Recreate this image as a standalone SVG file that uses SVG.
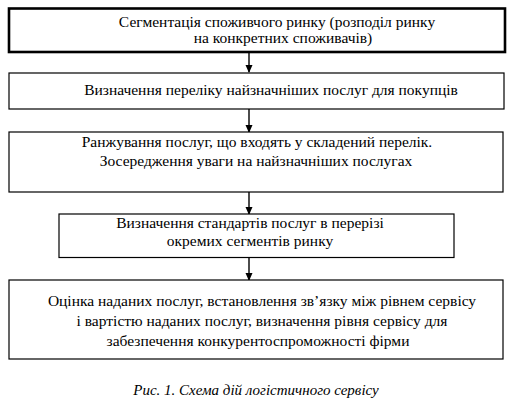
<svg xmlns="http://www.w3.org/2000/svg" width="524" height="405" viewBox="0 0 524 405">
<style>
.box{fill:#fff;stroke:#000;stroke-width:1.2}
.thick{stroke-width:2.6}
.t{font-family:"Liberation Serif","Times New Roman",serif;font-size:15.5px;fill:#000;text-anchor:middle}
.cap{font-family:"Liberation Serif","Times New Roman",serif;font-size:15px;font-style:italic;fill:#000;text-anchor:middle}
.c{stroke:#000;stroke-width:1.4;fill:none}
</style>
<defs>
<marker id="ah" markerWidth="8" markerHeight="10" refX="7" refY="3.5" orient="auto" markerUnits="userSpaceOnUse" viewBox="0 0 8 7">
<path d="M0,0 L8,3.5 L0,7 Z" fill="#000"/>
</marker>
</defs>
<rect width="524" height="405" fill="#fff"/>
<g id="connectors">
<line class="c" x1="249" y1="53" x2="249" y2="72" marker-end="url(#ah)"/>
<line class="c" x1="249" y1="109" x2="249" y2="132" marker-end="url(#ah)"/>
<line class="c" x1="249" y1="192" x2="249" y2="214" marker-end="url(#ah)"/>
<line class="c" x1="249" y1="258" x2="249" y2="280" marker-end="url(#ah)"/>
</g>
<g id="n1">
<rect class="box thick" x="9" y="8.5" width="496" height="43.5"/>
<text class="t" x="277" y="27">Сегментація споживчого ринку (розподіл ринку</text>
<text class="t" x="283" y="43">на конкретних споживачів)</text>
</g>
<g id="n2">
<rect class="box" x="9" y="73" width="495" height="36"/>
<text class="t" x="271" y="95">Визначення переліку найзначніших послуг для покупців</text>
</g>
<g id="n3">
<rect class="box" x="9" y="132" width="494" height="60"/>
<text class="t" x="257" y="147">Ранжування послуг, що входять у складений перелік.</text>
<text class="t" x="256" y="166">Зосередження уваги на найзначніших послугах</text>
</g>
<g id="n4">
<rect class="box" x="59" y="214" width="395" height="43.5"/>
<text class="t" x="250" y="228">Визначення стандартів послуг в перерізі</text>
<text class="t" x="250" y="246">окремих сегментів ринку</text>
</g>
<g id="n5">
<rect class="box" x="9" y="280" width="494" height="79"/>
<text class="t" x="262" y="306">Оцінка наданих послуг, встановлення зв’язку між рівнем сервісу</text>
<text class="t" x="262" y="326">і вартістю наданих послуг, визначення рівня сервісу для</text>
<text class="t" x="258" y="346">забезпечення конкурентоспроможності фірми</text>
</g>
<text class="cap" x="256" y="395">Рис. 1. Схема дій логістичного сервісу</text>
</svg>
